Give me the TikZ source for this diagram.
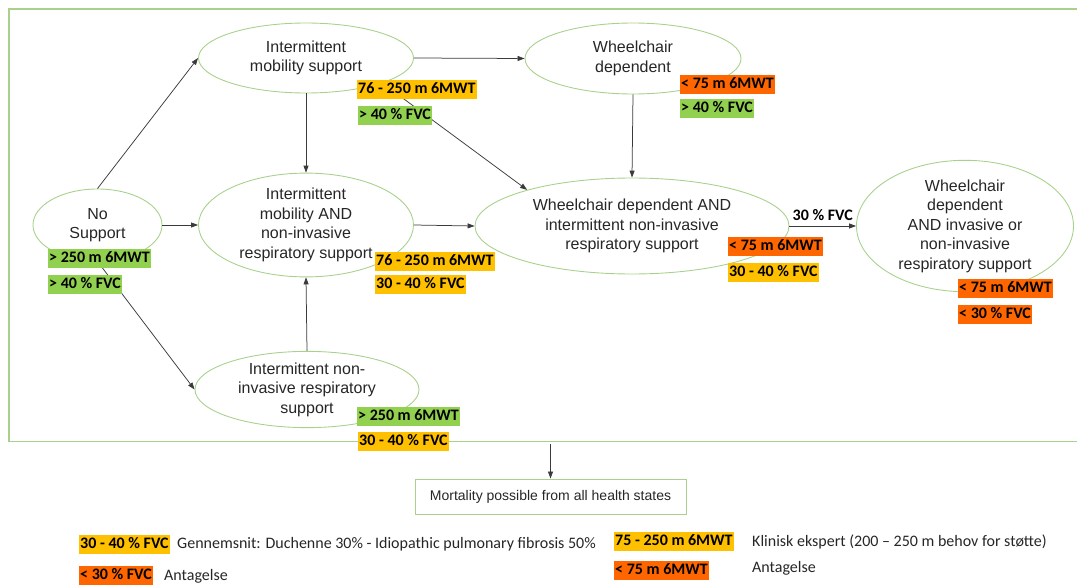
\documentclass[tikz,border=0pt]{standalone}
\usepackage{fontspec}
\setmainfont{Liberation Sans}
\newfontfamily\calfont{Carlito}
\usetikzlibrary{shapes.geometric,arrows.meta}
\definecolor{gbord}{HTML}{A9D18E}
\definecolor{lgreen}{HTML}{92D050}
\definecolor{lyellow}{HTML}{FFC000}
\definecolor{lorange}{HTML}{FF6600}
\definecolor{txtgrey}{HTML}{262626}
\definecolor{arrgrey}{HTML}{3A3A3A}
\begin{document}
\begin{tikzpicture}[x=1pt,y=-1pt,
  state/.style={ellipse, draw=gbord, line width=0.9pt, inner sep=0pt, align=center,
    font=\fontsize{16}{19.5}\selectfont, text=txtgrey},
  arr/.style={-{Triangle[length=7pt,width=5pt]}, line width=0.75pt, draw=arrgrey},
  lab/.style={anchor=north west, inner xsep=1pt, inner ysep=0pt, minimum height=19pt,
    text height=12pt, text depth=4pt, text=black,
    font=\calfont\bfseries\fontsize{16}{19}\selectfont},
  leg/.style={anchor=west, inner sep=0pt, text=txtgrey, font=\calfont\fontsize{16}{19}\selectfont}
]
\useasboundingbox (0,0) rectangle (1077,586);
% frame
\draw[gbord, line width=1.2pt] (1077,9) -- (9,9) -- (9,441.5) -- (1077,441.5);

% states
\node[state, minimum width=129pt, minimum height=72pt] (ns) at (97.5,225) {No\\Support};
\node[state, minimum width=215pt, minimum height=70pt] (ims) at (306,58) {Intermittent\\mobility support};
\node[state, minimum width=216pt, minimum height=71pt] (wd) at (633,58.5) {Wheelchair\\dependent};
\node[state, minimum width=215pt, minimum height=98pt] (iman) at (306,225) {Intermittent\\mobility AND\\non-invasive\\respiratory support};
\node[state, minimum width=314pt, minimum height=96pt] (wdain) at (632,226) {Wheelchair dependent AND\\intermittent non-invasive\\respiratory support};
\node[state, minimum width=217pt, minimum height=118pt] (wdai) at (965,226) {Wheelchair\\dependent\\AND invasive or\\non-invasive\\respiratory support};
\node[state, minimum width=224pt, minimum height=75pt] (inr) at (307,389.5) {Intermittent non-\\invasive respiratory\\support};

% connectors
\draw[arr] (ns.north) -- (ims.west);
\draw[arr] (ns.east) -- (iman.west);
\draw[arr] (ns.south) -- (inr.west);
\draw[arr] (ims.east) -- (wd.west);
\draw[arr] (ims.south) -- (iman.north);
\draw[arr] (ims.south east) -- (wdain.161);
\draw[arr] (wd.south) -- (wdain.north);
\draw[arr] (iman.east) -- (wdain.west);
\draw[arr] (inr.north) -- (iman.south);
\draw[arr] (wdain.east) -- node[midway, above=5pt, inner sep=0pt, text=black,
  font=\calfont\bfseries\fontsize{16}{19}\selectfont] (fvclab) {30 \% FVC} (wdai.west);

% mortality
\node[draw=gbord, line width=0.9pt, minimum width=271pt, minimum height=35pt, inner sep=0pt,
  text=txtgrey, font=\fontsize{14}{16}\selectfont] (mort) at (550.5,496.5) {Mortality possible from all health states};
\coordinate (mtop) at (550.5,444);
\draw[arr] (mtop) -- (mort.north);

% criteria labels
\node[lab, fill=lyellow] (l1) at (357,80) {76 - 250 m 6MWT};
\node[lab, fill=lgreen] (l2) at (358,106) {> 40 \% FVC};
\node[lab, fill=lorange] (l3) at (680,75) {< 75 m 6MWT};
\node[lab, fill=lgreen] (l4) at (680,99) {> 40 \% FVC};
\node[lab, fill=lgreen] (l5) at (48,249) {> 250 m 6MWT};
\node[lab, fill=lgreen] (l6) at (48,275) {> 40 \% FVC};
\node[lab, fill=lyellow] (l7) at (375,252) {76 - 250 m 6MWT};
\node[lab, fill=lyellow] (l8) at (375,275) {30 - 40 \% FVC};
\node[lab, fill=lorange] (l9) at (728,237) {< 75 m 6MWT};
\node[lab, fill=lyellow] (l10) at (728,263) {30 - 40 \% FVC};
\node[lab, fill=lorange] (l11) at (958,279) {< 75 m 6MWT};
\node[lab, fill=lorange] (l12) at (958,305) {< 30 \% FVC};
\node[lab, fill=lgreen] (l13) at (357,407) {> 250 m 6MWT};
\node[lab, fill=lyellow] (l14) at (358,432) {30 - 40 \% FVC};

% legend
\node[lab, fill=lyellow] (g1) at (79,535) {30 - 40 \% FVC};
\node[leg] (g1t) at (177,544) {Gennemsnit: Duchenne 30\% - Idiopathic pulmonary fibrosis 50\%};
\node[lab, fill=lorange] (g2) at (79,566) {< 30 \% FVC};
\node[leg] (g2t) at (164,576) {Antagelse};
\node[lab, fill=lyellow] (g3) at (614,532) {75 - 250 m 6MWT};
\node[leg] (g3t) at (752,542) {Klinisk ekspert (200 – 250 m behov for støtte)};
\node[lab, fill=lorange] (g4) at (614,561) {< 75 m 6MWT};
\node[leg] (g4t) at (752,568) {Antagelse};
\end{tikzpicture}
\end{document}
